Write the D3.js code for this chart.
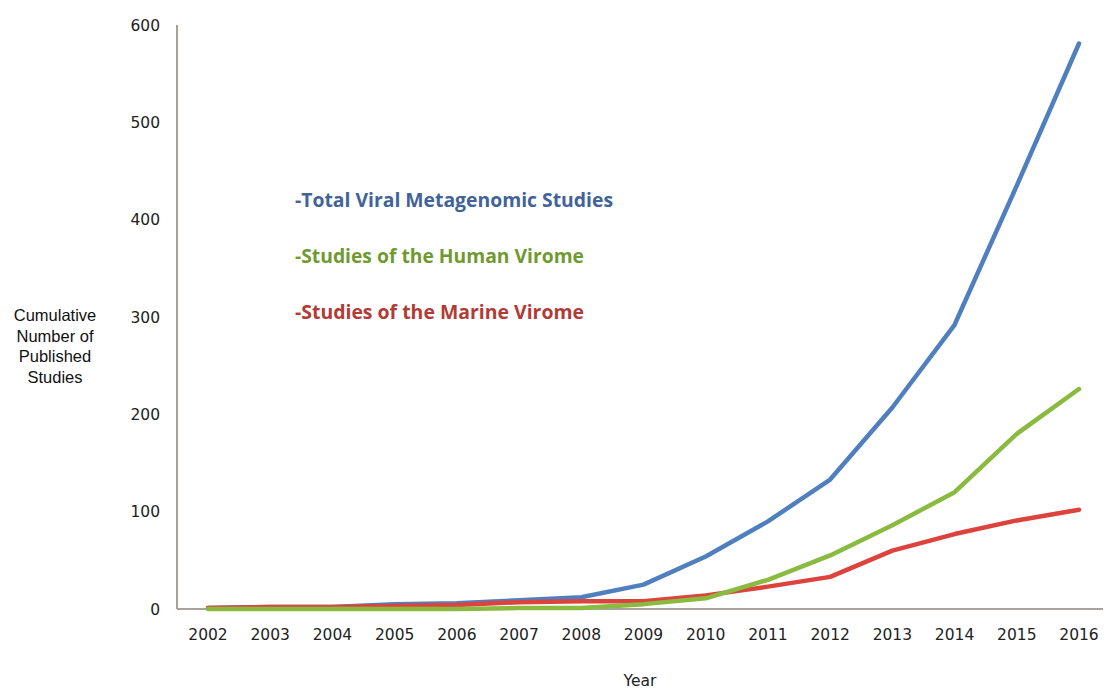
<!DOCTYPE html>
<html>
<head>
<meta charset="utf-8">
<script src="https://d3js.org/d3.v7.min.js"></script>
<style>
  body { margin: 0; background: #fff; }
</style>
</head>
<body>
<svg></svg>
<script>
// chart data
var years = ['2002','2003','2004','2005','2006','2007','2008','2009','2010','2011','2012','2013','2014','2015','2016'];
var totalStudies  = [1, 2, 2, 5, 6, 9, 12, 25, 54, 90, 133, 207, 292, 435, 581];
var humanVirome   = [0, 0, 0, 0, 0, 1, 1, 5, 11, 30, 55, 86, 120, 180, 226];
var marineVirome  = [1, 2, 2, 3, 4, 7, 8, 8, 14, 23, 33, 60, 77, 91, 102];
var yTicks = [0, 100, 200, 300, 400, 500, 600];

var series = [
  { name: '-Total Viral Metagenomic Studies', values: totalStudies, color: '#4f7fbf', text: '#41639a', len: 318 },
  { name: '-Studies of the Human Virome', values: humanVirome, color: '#8aba3f', text: '#6f9a2f', len: 289 },
  { name: '-Studies of the Marine Virome', values: marineVirome, color: '#dc433d', text: '#b23b36', len: 289 }
];

var W = 1105, H = 689;
var svg = d3.select('svg').attr('width', W).attr('height', H);

var x = d3.scalePoint().domain(years).range([208, 1079]);
var y = d3.scaleLinear().domain([0, 600]).range([609, 25]);

// axes lines
svg.append('line')
  .attr('x1', 177).attr('x2', 177)
  .attr('y1', y(600)).attr('y2', y(0))
  .attr('stroke', '#a8a29e').attr('stroke-width', 2);
svg.append('line')
  .attr('x1', 177).attr('x2', 1103)
  .attr('y1', y(0)).attr('y2', y(0))
  .attr('stroke', '#a8a29e').attr('stroke-width', 2);

// y tick labels
svg.selectAll('.ytick')
  .data(yTicks)
  .enter().append('text')
  .attr('class', 'ytick')
  .attr('x', 160)
  .attr('y', function(d) { return y(d); })
  .attr('dy', '0.36em')
  .attr('text-anchor', 'end')
  .attr('font-family', 'DejaVu Sans')
  .attr('font-size', 15.5)
  .attr('fill', '#222')
  .text(function(d) { return d; });

// x tick labels
svg.selectAll('.xtick')
  .data(years)
  .enter().append('text')
  .attr('class', 'xtick')
  .attr('x', function(d) { return x(d); })
  .attr('y', 640)
  .attr('text-anchor', 'middle')
  .attr('font-family', 'DejaVu Sans')
  .attr('font-size', 15.5)
  .attr('fill', '#222')
  .text(function(d) { return d; });

// axis titles
var ylab = ['Cumulative', 'Number of', 'Published', 'Studies'];
svg.selectAll('.ylab')
  .data(ylab)
  .enter().append('text')
  .attr('class', 'ylab')
  .attr('x', 55)
  .attr('y', function(d, i) { return 321 + i * 20.7; })
  .attr('text-anchor', 'middle')
  .attr('font-family', 'Liberation Sans, Arial')
  .attr('font-size', 16.5)
  .attr('fill', '#111')
  .text(function(d) { return d; });

svg.append('text')
  .attr('x', 640).attr('y', 686)
  .attr('text-anchor', 'middle')
  .attr('font-family', 'DejaVu Sans')
  .attr('font-size', 15.5)
  .attr('fill', '#222')
  .text('Year');

// lines
var line = d3.line()
  .x(function(d, i) { return x(years[i]); })
  .y(function(d) { return y(d); });

// blue first, then red, green on top near the baseline
[series[0], series[2], series[1]].forEach(function(s) {
  svg.append('path')
    .datum(s.values)
    .attr('d', line)
    .attr('fill', 'none')
    .attr('stroke', s.color)
    .attr('stroke-width', 4.5)
    .attr('stroke-linejoin', 'round')
    .attr('stroke-linecap', 'round');
});

// legend text
svg.selectAll('.legend')
  .data(series)
  .enter().append('text')
  .attr('class', 'legend')
  .attr('x', 295)
  .attr('y', function(d, i) { return 207 + i * 56; })
  .attr('font-family', 'Open Sans')
  .attr('font-weight', 'bold')
  .attr('font-size', 20)
  .attr('textLength', function(d) { return d.len; })
  .attr('lengthAdjust', 'spacingAndGlyphs')
  .attr('fill', function(d) { return d.text; })
  .text(function(d) { return d.name; });
</script>
</body>
</html>
